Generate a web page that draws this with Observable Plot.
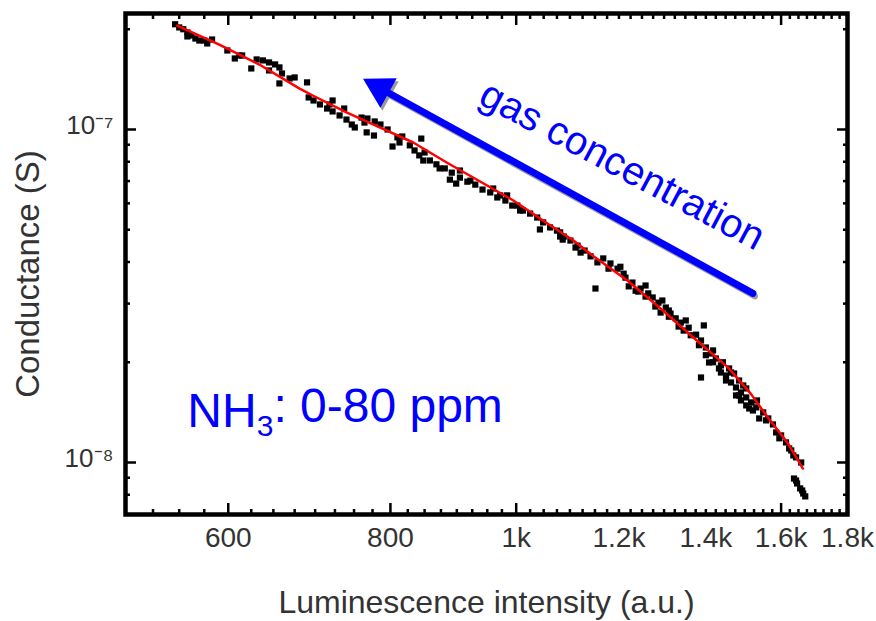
<!DOCTYPE html>
<html>
<head>
<meta charset="utf-8">
<script src="https://cdn.jsdelivr.net/npm/d3@7"></script>
<script src="https://cdn.jsdelivr.net/npm/@observablehq/plot@0.6"></script>
<style>
  html, body { margin: 0; padding: 0; background: #fff; }
  #chart svg { display: block; }
</style>
</head>
<body>
<div id="chart"></div>
<script>
// ---- Data ----
// Luminescence intensity (a.u.) and conductance (S) of the measured points
const scatterLum = [
  546, 550, 554, 558, 562, 566, 570, 578, 583, 599,
  607, 615, 625, 631, 638, 645, 652, 657, 660, 657,
  669, 675, 690, 692, 698, 706, 715, 722, 731, 740,
  747, 751, 722, 760, 768, 778, 786, 767, 777, 796,
  810, 803, 817, 845, 828, 835, 842, 848, 858, 868,
  881, 892, 905, 917, 889, 899, 930, 942, 955, 967,
  981, 993, 984, 1002, 1012, 1025, 1038, 1049, 1062, 1043,
  1075, 1088, 1101, 1115, 1121, 1086, 1151, 1167, 1182, 1197,
  1210, 1214, 1229, 1247, 1264, 1242, 1274, 1287, 1304, 1315,
  1292, 1327, 1339, 1358, 1376, 1346, 1395, 1388, 1388, 1400,
  1413, 1425, 1408, 1433, 1443, 1459, 1472, 1485, 1451, 1496,
  1477, 1490, 1504, 1517, 1504, 1531, 1550, 1564, 1577, 1600,
  1614, 1629, 1643, 1637, 1646, 1655, 1664, 1670,
  1221, 1258, 1280, 1311, 1334, 1363, 1418, 1438, 1464, 1477,
  1490, 1522, 1539, 1586, 1623, 1658, 1081, 1129, 1141, 922,
  972, 1007, 873, 813, 718, 737, 612, 575,
  1203, 1236, 1258, 1296, 1311, 1351, 1383, 1400, 1418, 1438,
  1451, 1464, 1504, 1512, 1485, 1533, 1558, 1595, 1635, 1081,
  1111, 1155, 1178, 960, 905, 850, 764, 645, 558, 1643,
  1661
];
const scatterCond = [
  2.07e-7, 2.025e-7, 2.0e-7, 1.956e-7, 1.916e-7, 1.876e-7, 1.85e-7, 1.813e-7, 1.863e-7, 1.727e-7,
  1.634e-7, 1.668e-7, 1.525e-7, 1.623e-7, 1.612e-7, 1.59e-7, 1.568e-7, 1.536e-7, 1.473e-7, 1.375e-7,
  1.423e-7, 1.433e-7, 1.385e-7, 1.248e-7, 1.222e-7, 1.189e-7, 1.156e-7, 1.133e-7, 1.102e-7, 1.071e-7,
  1.035e-7, 1.014e-7, 1.222e-7, 1.086e-7, 1.079e-7, 1.057e-7, 1.035e-7, 9.8e-8, 9.59e-8, 1.0e-7,
  9.47e-8, 8.89e-8, 9.53e-8, 9.39e-8, 8.96e-8, 8.65e-8, 8.36e-8, 8.07e-8, 8.07e-8, 7.86e-8,
  7.64e-8, 7.42e-8, 7.17e-8, 6.97e-8, 7.07e-8, 6.88e-8, 6.83e-8, 6.6e-8, 6.47e-8, 6.25e-8,
  6.12e-8, 5.91e-8, 6.34e-8, 5.91e-8, 5.71e-8, 5.59e-8, 5.44e-8, 5.26e-8, 5.08e-8, 5.01e-8,
  4.97e-8, 4.77e-8, 4.64e-8, 4.48e-8, 4.27e-8, 4.67e-8, 3.33e-8, 4.1e-8, 3.96e-8, 3.82e-8,
  3.69e-8, 3.59e-8, 3.47e-8, 3.33e-8, 3.22e-8, 3.26e-8, 3.13e-8, 3.02e-8, 2.92e-8, 2.8e-8,
  2.82e-8, 2.71e-8, 2.63e-8, 2.54e-8, 2.42e-8, 2.49e-8, 2.58e-8, 1.8e-8, 2.325e-8, 2.215e-8,
  2.125e-8, 2.053e-8, 1.997e-8, 1.916e-8, 2.0e-8, 1.916e-8, 1.85e-8, 1.763e-8, 1.825e-8, 1.703e-8,
  1.68e-8, 1.623e-8, 1.568e-8, 1.515e-8, 1.484e-8, 1.464e-8, 1.414e-8, 1.356e-8, 1.301e-8, 1.206e-8,
  1.149e-8, 1.087e-8, 1.036e-8, 8.95e-9, 8.65e-9, 8.36e-9, 8.07e-9, 7.91e-9,
  3.38e-8, 3.15e-8, 2.94e-8, 2.74e-8, 2.56e-8, 2.41e-8, 2.0e-8, 1.863e-8, 1.739e-8, 1.59e-8,
  1.536e-8, 1.433e-8, 1.356e-8, 1.231e-8, 1.102e-8, 1.0e-8, 4.77e-8, 4.33e-8, 4.16e-8, 7.02e-8,
  6.34e-8, 5.71e-8, 7.64e-8, 9.14e-8, 1.189e-7, 1.156e-7, 1.668e-7, 1.85e-7,
  3.87e-8, 3.28e-8, 3.40e-8, 3.065e-8, 2.86e-8, 2.67e-8, 2.25e-8, 2.10e-8, 2.17e-8, 1.957e-8,
  1.763e-8, 1.863e-8, 1.669e-8, 1.453e-8, 1.59e-8, 1.536e-8, 1.338e-8, 1.182e-8, 1.05e-8, 4.91e-8,
  4.42e-8, 3.99e-8, 3.82e-8, 6.65e-8, 7.53e-8, 8.53e-8, 1.049e-7, 1.504e-7, 1.903e-7, 8.83e-9,
  8.24e-9
];
// Red fit line
const fitLum  = [548, 590, 634, 681, 697, 740, 785, 833, 884, 938, 995, 1057, 1107, 1147, 1218, 1292, 1370, 1456, 1516, 1563, 1620, 1663];
const fitCond = [2.05e-7, 1.80e-7, 1.567e-7, 1.327e-7, 1.265e-7, 1.125e-7, 1.014e-7, 9.14e-8, 7.96e-8, 6.98e-8, 6.12e-8, 5.22e-8, 4.64e-8, 4.16e-8, 3.52e-8, 2.90e-8, 2.37e-8, 1.93e-8, 1.61e-8, 1.365e-8, 1.14e-8, 9.59e-9];

// Axes
const lumDomain = [500, 1800];
const condDomain = [6.98e-9, 2.23e-7];
const lumTicks = [600, 800, 1000, 1200, 1400, 1600, 1800];
const lumTickLabels = ["600", "800", "1k", "1.2k", "1.4k", "1.6k", "1.8k"];
const lumMajorTicks = [600, 800, 1000, 1600];
const lumMinorTicks = d3.range(525, 1800, 25).filter(v => !lumMajorTicks.includes(v));
const condTicks = [1e-8, 1e-7];
const condTickLabels = ["10⁻⁸", "10⁻⁷"];
const condMinorTicks = [8e-9, 9e-9, 2e-8, 3e-8, 4e-8, 5e-8, 6e-8, 7e-8, 8e-8, 9e-8, 2e-7];
const xLabel = "Luminescence intensity (a.u.)";
const yLabel = "Conductance (S)";

// Annotations
const arrowLum = [1522, 762];
const arrowCond = [3.22e-8, 1.42e-7];
const gasLabel = "gas concentration";
const gasPos = [1207, 7.79e-8];
const nhLabel = "NH3: 0-80 ppm";
const nhPos = [558, 1.42e-8];

// ---- Build ----
const points = scatterLum.map((x, i) => ({x, y: scatterCond[i]}));
const fit = fitLum.map((x, i) => ({x, y: fitCond[i]}));
const arrowData = [{x1: arrowLum[0], y1: arrowCond[0], x2: arrowLum[1], y2: arrowCond[1]}];
const headData = [{x: arrowLum[1], y: arrowCond[1]}];

const textColor = "#333";
const tickW = 2.5;
// filled arrow head (equilateral triangle whose tip sits on the arrow end)
const headR = 12.5, headRot = -61, headBack = 19.5;
const hdx = headBack * 0.875, hdy = headBack * 0.484;

const chart = Plot.plot({
  width: 876,
  height: 621,
  marginLeft: 125,
  marginRight: 29,
  marginTop: 13,
  marginBottom: 107,
  style: {fontFamily: "'Liberation Sans', Arial, sans-serif", background: "#fff", color: "#000"},
  x: {type: "log", domain: lumDomain},
  y: {type: "log", domain: condDomain},
  marks: [
    // minor & major ticks, pointing inward on all four sides
    Plot.axisX(lumMinorTicks, {anchor: "bottom", tickSize: 5, dy: -5, strokeWidth: tickW, fill: "none", label: null}),
    Plot.axisX(lumMajorTicks, {anchor: "bottom", tickSize: 11, dy: -11, strokeWidth: tickW, fill: "none", label: null}),
    Plot.axisX(lumMinorTicks, {anchor: "top", tickSize: 5, dy: 5, strokeWidth: tickW, fill: "none", label: null}),
    Plot.axisX(lumMajorTicks, {anchor: "top", tickSize: 11, dy: 11, strokeWidth: tickW, fill: "none", label: null}),
    Plot.axisY(condMinorTicks, {anchor: "left", tickSize: 5, dx: 5, strokeWidth: tickW, fill: "none", label: null}),
    Plot.axisY(condTicks, {anchor: "left", tickSize: 11, dx: 11, strokeWidth: tickW, fill: "none", label: null}),
    Plot.axisY(condMinorTicks, {anchor: "right", tickSize: 5, dx: -5, strokeWidth: tickW, fill: "none", label: null}),
    Plot.axisY(condTicks, {anchor: "right", tickSize: 11, dx: -11, strokeWidth: tickW, fill: "none", label: null}),
    // tick labels
    Plot.axisX(lumTicks, {anchor: "bottom", tickSize: 0, tickPadding: 13, fontSize: 28, fill: textColor,
      tickFormat: d => lumTickLabels[lumTicks.indexOf(d)], label: null}),
    Plot.axisY(condTicks, {anchor: "left", tickSize: 0, tickPadding: 12, fontSize: 26, fill: textColor, dy: -4,
      tickFormat: d => condTickLabels[condTicks.indexOf(d)], label: null}),
    // axis titles
    Plot.text([xLabel], {frameAnchor: "bottom", dy: 88, text: d => d, fontSize: 32, fill: textColor, textAnchor: "middle", lineAnchor: "middle"}),
    Plot.text([yLabel], {frameAnchor: "left", dx: -97, dy: 10, rotate: -90, text: d => d, fontSize: 33, fill: textColor, textAnchor: "middle", lineAnchor: "middle"}),
    // data
    Plot.dot(points, {x: "x", y: "y", symbol: "square", r: 3.5, fill: "black", stroke: "none"}),
    Plot.line(fit, {x: "x", y: "y", stroke: "#ff0000", strokeWidth: 2.5}),
    // annotations: shadow, then blue arrow with filled head
    Plot.arrow(arrowData, {x1: "x1", y1: "y1", x2: "x2", y2: "y2", stroke: "#9a9a9a", strokeWidth: 6, headLength: 0, insetEnd: 18, dx: 2, dy: 3}),
    Plot.dot(headData, {x: "x", y: "y", symbol: "triangle", r: headR, rotate: headRot, fill: "#9a9a9a", stroke: "none", dx: hdx + 2, dy: hdy + 3}),
    Plot.arrow(arrowData, {x1: "x1", y1: "y1", x2: "x2", y2: "y2", stroke: "#0000ff", strokeWidth: 7, headLength: 0, insetEnd: 18}),
    Plot.dot(headData, {x: "x", y: "y", symbol: "triangle", r: headR, rotate: headRot, fill: "#0000ff", stroke: "none", dx: hdx, dy: hdy}),
    Plot.text([gasLabel], {x: () => gasPos[0], y: () => gasPos[1], text: d => d, rotate: 28, fontSize: 40, fill: "#0000ff", lineAnchor: "middle"}),
    Plot.text([nhLabel], {x: () => nhPos[0], y: () => nhPos[1], text: d => d, fontSize: 48, fill: "#0000ff", textAnchor: "start", lineAnchor: "middle"}),
    Plot.frame({stroke: "black", strokeWidth: 4.5})
  ]
});

// subscript the 3 in NH3
d3.select(chart).selectAll("text").each(function () {
  if (this.textContent === nhLabel) {
    const t = d3.select(this);
    t.text(null);
    t.append("tspan").text("NH");
    t.append("tspan").attr("font-size", "30").attr("dy", "0.3em").text("3");
    t.append("tspan").attr("dy", "-0.3em").text(": 0-80 ppm");
  }
});

document.getElementById("chart").appendChild(chart);
</script>
</body>
</html>
